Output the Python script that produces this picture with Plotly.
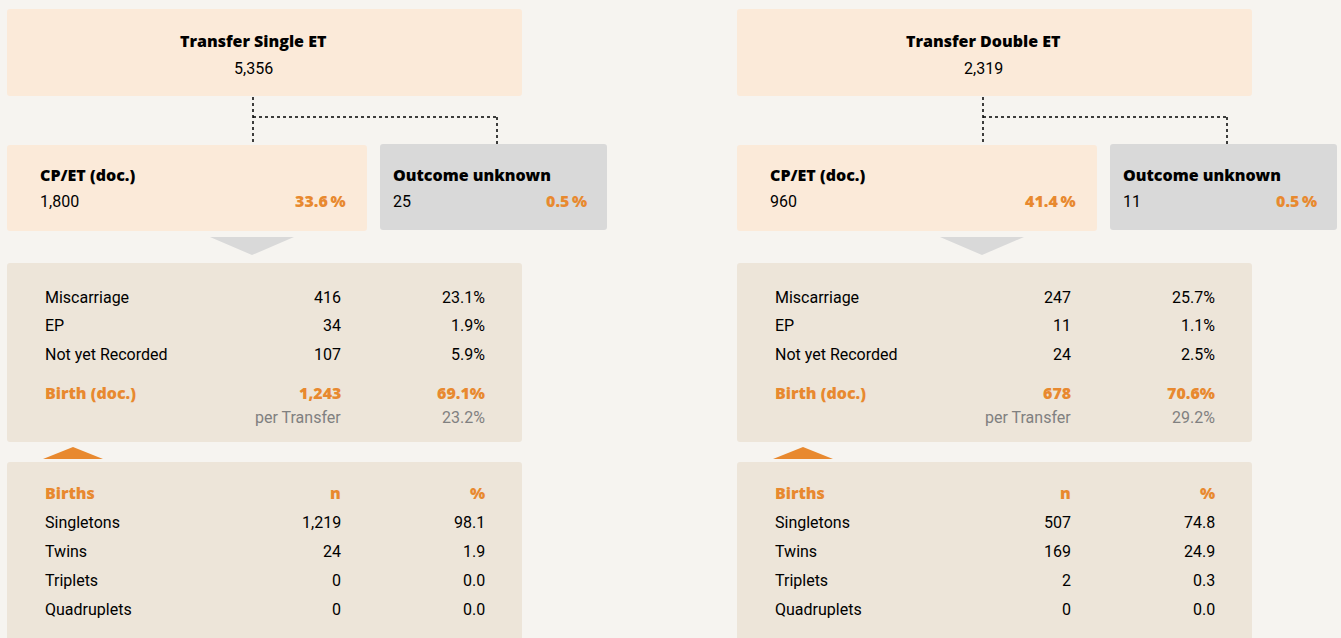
import plotly.graph_objects as go

# panel data
panel_titles = ["Transfer Single ET", "Transfer Double ET"]
transfers = [5356, 2319]
cp_n = [1800, 960]
cp_pct = [33.6, 41.4]
unknown_n = [25, 11]
unknown_pct = [0.5, 0.5]

outcome_labels = ["Miscarriage", "EP", "Not yet Recorded"]
outcome_n = [[416, 34, 107], [247, 11, 24]]
outcome_pct = [[23.1, 1.9, 5.9], [25.7, 1.1, 2.5]]
birth_n = [1243, 678]
birth_pct = [69.1, 70.6]
per_transfer_pct = [23.2, 29.2]

birth_labels = ["Singletons", "Twins", "Triplets", "Quadruplets"]
births_n = [[1219, 24, 0, 0], [507, 169, 2, 0]]
births_pct = [[98.1, 1.9, 0.0, 0.0], [74.8, 24.9, 0.3, 0.0]]

BG = "#F6F4F0"
PEACH = "#FBEAD9"
GREY = "#D9D9D9"
BEIGE = "#EDE5D9"
ORANGE = "#E8892F"
REG_FONT = "Roboto"
BOLD_FONT = "Open Sans"

fig = go.Figure()
shapes = []
ann = []


def rrect(x0, y0, x1, y1, color, r=3):
    path = (f"M {x0+r},{y0} L {x1-r},{y0} Q {x1},{y0} {x1},{y0+r} "
            f"L {x1},{y1-r} Q {x1},{y1} {x1-r},{y1} L {x0+r},{y1} "
            f"Q {x0},{y1} {x0},{y1-r} L {x0},{y0+r} Q {x0},{y0} {x0+r},{y0} Z")
    shapes.append(dict(type="path", path=path, fillcolor=color, line_width=0, layer="below"))


def txt(x, y, s, anchor="left", color="black", bold=False, size=16):
    if bold:
        font = dict(family=BOLD_FONT, size=size, color=color, weight=800)
    else:
        font = dict(family=REG_FONT, size=size, color=color)
    # annotations carry a couple of px of padding, nudge it back
    if anchor == "left":
        x -= 2
    elif anchor == "right":
        x += 1
    ann.append(dict(x=x, y=y, text=s, xanchor=anchor, yanchor="middle", showarrow=False, font=font))


def fmt(v):
    return f"{v:,}"


for i in range(2):
    ox = i * 730

    # boxes
    rrect(ox + 7, 9, ox + 522, 96, PEACH)
    rrect(ox + 7, 145, ox + 367, 231, PEACH)
    rrect(ox + 380, 144, ox + 607, 230, GREY)
    rrect(ox + 7, 263, ox + 522, 442, BEIGE)
    rrect(ox + 7, 462, ox + 522, 660, BEIGE)

    # dotted connectors
    dot = dict(color="black", width=1.5, dash="dot")
    shapes.append(dict(type="line", x0=ox + 253, y0=97, x1=ox + 253, y1=144, line=dot))
    shapes.append(dict(type="line", x0=ox + 253, y0=117, x1=ox + 497, y1=117, line=dot))
    shapes.append(dict(type="line", x0=ox + 497, y0=117, x1=ox + 497, y1=144, line=dot))

    # arrows
    shapes.append(dict(type="path", path=f"M {ox+210},237 L {ox+294},237 L {ox+252},255 Z",
                       fillcolor=GREY, line_width=0))
    shapes.append(dict(type="path", path=f"M {ox+43},459 L {ox+103},459 L {ox+73},447 Z",
                       fillcolor=ORANGE, line_width=0))

    # top box
    txt(ox + 253, 41, panel_titles[i], anchor="center", bold=True)
    txt(ox + 253, 68, fmt(transfers[i]), anchor="center")

    # CP/ET
    txt(ox + 40, 175, "CP/ET (doc.)", bold=True)
    txt(ox + 40, 201, fmt(cp_n[i]))
    txt(ox + 347, 201, f"{cp_pct[i]:.1f}\u2009%", anchor="right", color=ORANGE, bold=True)

    # Outcome unknown
    txt(ox + 393, 175, "Outcome unknown", bold=True)
    txt(ox + 393, 201, fmt(unknown_n[i]))
    txt(ox + 588, 201, f"{unknown_pct[i]:.1f}\u2009%", anchor="right", color=ORANGE, bold=True)

    # outcomes table
    for j, lab in enumerate(outcome_labels):
        y = 297 + j * 28.7
        txt(ox + 45, y, lab)
        txt(ox + 342, y, fmt(outcome_n[i][j]), anchor="right")
        txt(ox + 486, y, f"{outcome_pct[i][j]:.1f}%", anchor="right")
    txt(ox + 45, 393, "Birth (doc.)", color=ORANGE, bold=True)
    txt(ox + 342, 393, fmt(birth_n[i]), anchor="right", color=ORANGE, bold=True)
    txt(ox + 486, 393, f"{birth_pct[i]:.1f}%", anchor="right", color=ORANGE, bold=True)
    txt(ox + 342, 417, "per Transfer", anchor="right", color="#808080")
    txt(ox + 486, 417, f"{per_transfer_pct[i]:.1f}%", anchor="right", color="#808080")

    # births table
    txt(ox + 45, 493, "Births", color=ORANGE, bold=True)
    txt(ox + 342, 493, "n", anchor="right", color=ORANGE, bold=True)
    txt(ox + 486, 493, "%", anchor="right", color=ORANGE, bold=True)
    for j, lab in enumerate(birth_labels):
        y = 522 + j * 29
        txt(ox + 45, y, lab)
        txt(ox + 342, y, fmt(births_n[i][j]), anchor="right")
        txt(ox + 486, y, f"{births_pct[i][j]:.1f}", anchor="right")

fig.update_layout(
    width=1341, height=638,
    margin=dict(l=0, r=0, t=0, b=0),
    paper_bgcolor=BG, plot_bgcolor=BG,
    xaxis=dict(range=[0, 1341], visible=False, fixedrange=True),
    yaxis=dict(range=[638, 0], visible=False, fixedrange=True),
    shapes=shapes, annotations=ann,
    showlegend=False,
)

fig.write_html("out.html", config={"displayModeBar": False},
               post_script="document.body.style.margin='0';document.body.style.background='%s';" % BG)
